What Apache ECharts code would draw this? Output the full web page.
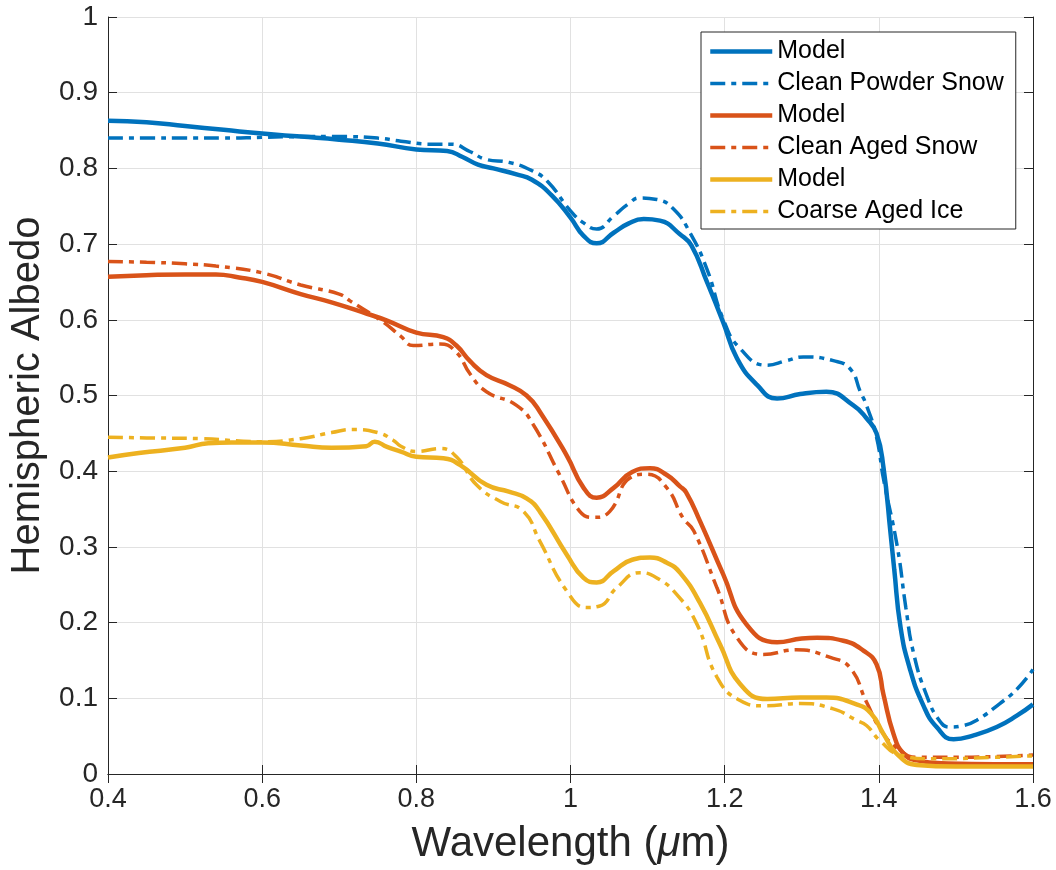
<!DOCTYPE html>
<html lang="en">
<head>
    <meta charset="UTF-8">
    <title>Hemispheric Albedo</title>
    <script src="https://cdn.jsdelivr.net/npm/echarts@6/dist/echarts.min.js"></script>
    <style>
        * { margin: 0; padding: 0; box-sizing: border-box; }
        body { background: #ffffff; }
        #chart { width: 1056px; height: 870px; }
    </style>
</head>
<body>
    <div id="chart"></div>
    <script type="text/javascript">
        // values
        const xTicks = [0.4, 0.6, 0.8, 1.0, 1.2, 1.4, 1.6];
        const legendNames = ['Model', 'Clean Powder Snow', 'Model', 'Clean Aged Snow', 'Model', 'Coarse Aged Ice'];

        const wlBlueModel = [0.40, 0.45, 0.50, 0.55, 0.60, 0.65, 0.70, 0.75, 0.80, 0.84, 0.86, 0.88, 0.90, 0.93, 0.95, 0.975, 1.00, 1.017, 1.034, 1.056, 1.075, 1.095, 1.116, 1.142, 1.157, 1.177, 1.198, 1.216, 1.242, 1.268, 1.298, 1.332, 1.367, 1.384, 1.397, 1.406, 1.415, 1.42, 1.428, 1.44, 1.458, 1.475, 1.497, 1.523, 1.553, 1.579, 1.60];
        const blueModel = [0.863, 0.861, 0.856, 0.851, 0.846, 0.842, 0.838, 0.833, 0.825, 0.823, 0.815, 0.805, 0.800, 0.792, 0.785, 0.765, 0.735, 0.711, 0.701, 0.715, 0.727, 0.733, 0.731, 0.713, 0.698, 0.650, 0.597, 0.549, 0.514, 0.496, 0.502, 0.505, 0.487, 0.470, 0.450, 0.405, 0.320, 0.270, 0.195, 0.140, 0.090, 0.062, 0.046, 0.051, 0.062, 0.077, 0.092];

        const wlPowder = [0.40, 0.45, 0.50, 0.55, 0.60, 0.65, 0.70, 0.75, 0.78, 0.82, 0.845, 0.87, 0.89, 0.92, 0.95, 0.97, 1.00, 1.017, 1.034, 1.056, 1.075, 1.09, 1.112, 1.134, 1.155, 1.177, 1.198, 1.22, 1.255, 1.28, 1.302, 1.341, 1.363, 1.376, 1.384, 1.397, 1.406, 1.424, 1.435, 1.445, 1.462, 1.479, 1.492, 1.51, 1.527, 1.557, 1.58, 1.60];
        const powderSnow = [0.840, 0.840, 0.840, 0.840, 0.841, 0.842, 0.842, 0.840, 0.836, 0.832, 0.832, 0.822, 0.812, 0.808, 0.797, 0.783, 0.744, 0.728, 0.720, 0.737, 0.753, 0.761, 0.759, 0.746, 0.715, 0.667, 0.601, 0.562, 0.540, 0.546, 0.551, 0.546, 0.535, 0.505, 0.487, 0.445, 0.390, 0.300, 0.220, 0.160, 0.104, 0.070, 0.062, 0.064, 0.071, 0.093, 0.113, 0.138];

        const wlOrangeModel = [0.40, 0.45, 0.50, 0.54, 0.57, 0.60, 0.65, 0.69, 0.736, 0.762, 0.80, 0.835, 0.852, 0.87, 0.891, 0.92, 0.943, 0.96, 0.995, 1.017, 1.034, 1.056, 1.08, 1.103, 1.125, 1.142, 1.15, 1.168, 1.198, 1.228, 1.268, 1.30, 1.32, 1.354, 1.38, 1.397, 1.406, 1.419, 1.432, 1.449, 1.49, 1.55, 1.60];
        const orangeModel = [0.657, 0.659, 0.660, 0.660, 0.656, 0.650, 0.634, 0.623, 0.608, 0.599, 0.583, 0.577, 0.566, 0.545, 0.527, 0.514, 0.500, 0.479, 0.421, 0.378, 0.365, 0.378, 0.399, 0.404, 0.395, 0.380, 0.372, 0.334, 0.264, 0.198, 0.174, 0.179, 0.180, 0.176, 0.163, 0.145, 0.105, 0.053, 0.027, 0.018, 0.014, 0.013, 0.013];

        const wlAged = [0.40, 0.45, 0.50, 0.54, 0.60, 0.65, 0.70, 0.714, 0.757, 0.78, 0.796, 0.831, 0.852, 0.87, 0.891, 0.93, 0.952, 0.986, 1.012, 1.03, 1.051, 1.077, 1.099, 1.125, 1.146, 1.16, 1.19, 1.216, 1.25, 1.293, 1.337, 1.363, 1.384, 1.406, 1.428, 1.449, 1.50, 1.55, 1.60];
        const agedSnow = [0.677, 0.676, 0.674, 0.671, 0.662, 0.646, 0.634, 0.625, 0.597, 0.578, 0.566, 0.568, 0.557, 0.528, 0.505, 0.487, 0.461, 0.395, 0.347, 0.339, 0.347, 0.391, 0.396, 0.378, 0.338, 0.321, 0.246, 0.180, 0.158, 0.164, 0.154, 0.140, 0.095, 0.053, 0.031, 0.022, 0.022, 0.023, 0.025];

        const wlYellowModel = [0.40, 0.44, 0.50, 0.53, 0.56, 0.60, 0.65, 0.69, 0.735, 0.746, 0.762, 0.78, 0.80, 0.835, 0.857, 0.891, 0.92, 0.943, 0.96, 0.995, 1.017, 1.034, 1.056, 1.08, 1.103, 1.125, 1.142, 1.168, 1.194, 1.22, 1.255, 1.298, 1.332, 1.371, 1.39, 1.406, 1.423, 1.449, 1.50, 1.60];
        const yellowModel = [0.418, 0.424, 0.431, 0.437, 0.438, 0.438, 0.434, 0.431, 0.433, 0.439, 0.432, 0.426, 0.419, 0.417, 0.408, 0.382, 0.373, 0.364, 0.347, 0.290, 0.259, 0.253, 0.268, 0.283, 0.286, 0.279, 0.266, 0.226, 0.171, 0.119, 0.099, 0.101, 0.101, 0.092, 0.080, 0.053, 0.027, 0.012, 0.010, 0.010];

        const wlIce = [0.40, 0.45, 0.52, 0.60, 0.65, 0.69, 0.718, 0.75, 0.77, 0.78, 0.80, 0.831, 0.852, 0.878, 0.909, 0.939, 0.96, 0.995, 1.021, 1.038, 1.06, 1.09, 1.112, 1.138, 1.164, 1.19, 1.22, 1.25, 1.298, 1.341, 1.371, 1.384, 1.4015, 1.428, 1.47, 1.55, 1.60];
        const coarseIce = [0.445, 0.444, 0.443, 0.439, 0.443, 0.451, 0.455, 0.451, 0.441, 0.433, 0.426, 0.430, 0.419, 0.382, 0.360, 0.347, 0.308, 0.242, 0.220, 0.222, 0.246, 0.266, 0.259, 0.237, 0.198, 0.128, 0.097, 0.090, 0.093, 0.086, 0.071, 0.064, 0.044, 0.025, 0.020, 0.022, 0.024];

        const BLUE = '#0072BD', ORANGE = '#D95319', YELLOW = '#EDB120';
        const AXIS = '#262626';
        const FONT = '"Liberation Sans", Arial, Helvetica, sans-serif';
        const SOLID_W = 4.5, DASH_W = 3.5;

        function pairs(xs, ys) {
            return xs.map((x, i) => [x, ys[i]]);
        }

        function makeSeries(idx, xs, ys, color, dashed) {
            return {
                name: legendNames[idx] + '#' + idx,
                type: 'line',
                data: pairs(xs, ys),
                symbol: 'none',
                smooth: 0.5,
                lineStyle: {
                    color: color,
                    width: dashed ? DASH_W : SOLID_W,
                    type: dashed ? [15, 6, 5, 6] : 'solid'
                },
                itemStyle: { color: color },
                z: 2 + idx
            };
        }

        const chart = echarts.init(document.getElementById('chart'));

        const option = {
            animation: false,
            backgroundColor: '#ffffff',
            grid: { left: 108, top: 17, right: 23, bottom: 93, containLabel: false },
            legend: {
                orient: 'vertical',
                left: 701,
                top: 32,
                padding: [7, 12, 5, 7],
                itemWidth: 62,
                itemHeight: 14,
                itemGap: 7,
                backgroundColor: '#ffffff',
                borderColor: AXIS,
                borderWidth: 1,
                borderRadius: 0,
                selectedMode: false,
                itemStyle: { opacity: 0 },
                data: legendNames.map((n, i) => ({
                    name: n + '#' + i,
                    lineStyle: { width: i % 2 ? DASH_W : SOLID_W }
                })),
                formatter: name => name.split('#')[0],
                textStyle: { fontFamily: FONT, fontSize: 25, color: '#000000' }
            },
            xAxis: [{
                type: 'value',
                min: 0.4,
                max: 1.6,
                interval: 0.2,
                name: 'Wavelength ({mu|μ}m)',
                nameLocation: 'middle',
                nameGap: 49,
                nameTextStyle: {
                    fontFamily: FONT, fontSize: 42, color: AXIS,
                    rich: { mu: { fontFamily: FONT, fontSize: 42, fontStyle: 'italic', color: AXIS } }
                },
                axisLine: { show: true, lineStyle: { color: AXIS, width: 1 } },
                axisTick: { show: true, inside: true, length: 9, lineStyle: { color: AXIS } },
                axisLabel: { fontFamily: FONT, fontSize: 27, color: AXIS, margin: 12 },
                splitLine: { show: true, lineStyle: { color: '#e1e1e1', width: 1 } }
            }, {
                type: 'value',
                position: 'top',
                min: 0.4,
                max: 1.6,
                interval: 0.2,
                axisLine: { show: true, lineStyle: { color: AXIS, width: 1 } },
                axisTick: { show: true, inside: true, length: 9, lineStyle: { color: AXIS } },
                axisLabel: { show: false },
                splitLine: { show: false }
            }],
            yAxis: [{
                type: 'value',
                min: 0,
                max: 1,
                interval: 0.1,
                name: 'Hemispheric Albedo',
                nameLocation: 'middle',
                nameGap: 48,
                nameTextStyle: { fontFamily: FONT, fontSize: 40, color: AXIS },
                axisLine: { show: true, lineStyle: { color: AXIS, width: 1 } },
                axisTick: { show: true, inside: true, length: 9, lineStyle: { color: AXIS } },
                axisLabel: { fontFamily: FONT, fontSize: 28, color: AXIS, margin: 10 },
                splitLine: { show: true, lineStyle: { color: '#e1e1e1', width: 1 } }
            }, {
                type: 'value',
                position: 'right',
                min: 0,
                max: 1,
                interval: 0.1,
                axisLine: { show: true, lineStyle: { color: AXIS, width: 1 } },
                axisTick: { show: true, inside: true, length: 9, lineStyle: { color: AXIS } },
                axisLabel: { show: false },
                splitLine: { show: false }
            }],
            series: [
                makeSeries(0, wlBlueModel, blueModel, BLUE, false),
                makeSeries(1, wlPowder, powderSnow, BLUE, true),
                makeSeries(2, wlOrangeModel, orangeModel, ORANGE, false),
                makeSeries(3, wlAged, agedSnow, ORANGE, true),
                makeSeries(4, wlYellowModel, yellowModel, YELLOW, false),
                makeSeries(5, wlIce, coarseIce, YELLOW, true)
            ]
        };

        chart.setOption(option);
    </script>
</body>
</html>
